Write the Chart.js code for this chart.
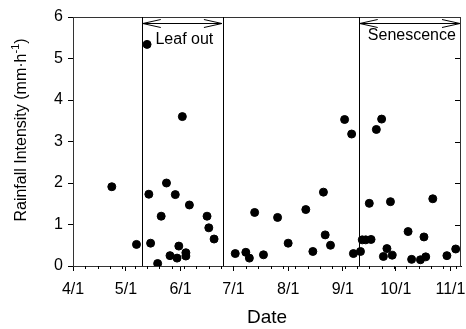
<!DOCTYPE html>
<html>
<head>
<meta charset="utf-8">
<script src="https://cdn.jsdelivr.net/npm/chart.js@4.4.1/dist/chart.umd.min.js"></script>
<style>
  html, body { margin: 0; padding: 0; background: #fff; }
</style>
</head>
<body>
<canvas id="chart" width="466" height="329"></canvas>
<script>
// rain events (date, mm/h)
const eventDates = [
  '4/23', '5/7', '5/13', '5/14', '5/15', '5/19', '5/21', '5/24', '5/26', '5/29',
  '5/30', '5/31', '6/2', '6/4', '6/4', '6/6', '6/16', '6/17', '6/20',
  '7/2', '7/8', '7/10', '7/13', '7/18', '7/26', '8/1', '8/11', '8/15', '8/21',
  '8/22', '8/25', '9/2', '9/6', '9/7', '9/11', '9/12', '9/14', '9/16', '9/17',
  '9/20', '9/23', '9/24', '9/26', '9/28', '9/29', '10/8', '10/10', '10/15',
  '10/17', '10/18', '10/22', '10/30', '11/4'
];
const intensity = [
  1.91, 0.52, 5.34, 1.73, 0.55, 0.06, 1.2, 2.0, 0.25, 1.72,
  0.19, 0.48, 3.6, 0.32, 0.24, 1.47, 1.2, 0.92, 0.65,
  0.3, 0.33, 0.19, 1.29, 0.27, 1.17, 0.55, 1.36, 0.35, 1.78,
  0.75, 0.5, 3.53, 3.18, 0.3, 0.35, 0.63, 0.63, 1.51, 0.64,
  3.29, 3.54, 0.23, 0.42, 1.55, 0.26, 0.83, 0.16, 0.15,
  0.7, 0.22, 1.62, 0.25, 0.41
];
const monthLabels = ['4/1', '5/1', '6/1', '7/1', '8/1', '9/1', '10/1', '11/1'];
const axisEnd = '11/7';
const phaseLines = ['5/10', '6/25', '9/10'];
const phaseNames = ['Leaf out', 'Senescence'];

const FONT = '"Liberation Sans", Arial, sans-serif';
const monthStart = {4: 0, 5: 30, 6: 61, 7: 91, 8: 122, 9: 153, 10: 183, 11: 214};
function dayOf(s) {
  const [m, d] = s.split('/').map(Number);
  return monthStart[m] + d - 1;
}

const extras = {
  id: 'extras',
  afterDraw(chart) {
    const ctx = chart.ctx;
    const a = chart.chartArea;
    const xs = chart.scales.x, ys = chart.scales.y;
    ctx.save();
    ctx.lineWidth = 1;

    // box round the plot
    ctx.strokeStyle = '#333';
    ctx.strokeRect(Math.round(a.left) + 0.5, Math.round(a.top) + 0.5,
      Math.round(a.right - a.left) - 1, Math.round(a.bottom - a.top));

    ctx.strokeStyle = '#000';
    ctx.beginPath();
    // inward ticks on the right side
    for (let v = 1; v < 6; v++) {
      const y = Math.round(ys.getPixelForValue(v)) + 0.5;
      ctx.moveTo(a.right - 1, y);
      ctx.lineTo(a.right - 6, y);
    }
    // weekly minor ticks
    for (let d = 7; d < dayOf(axisEnd); d += 7) {
      const x = Math.round(xs.getPixelForValue(d)) + 0.5;
      ctx.moveTo(x, a.bottom);
      ctx.lineTo(x, a.bottom + 3);
    }
    // phase lines
    phaseLines.forEach(p => {
      const x = Math.round(xs.getPixelForValue(dayOf(p))) + 0.5;
      ctx.moveTo(x, a.top);
      ctx.lineTo(x, a.bottom);
    });
    ctx.stroke();

    // double arrows with labels
    const spans = [
      [dayOf(phaseLines[0]), dayOf(phaseLines[1]), 44],
      [dayOf(phaseLines[2]), dayOf(axisEnd), 40]
    ];
    ctx.font = '16px ' + FONT;
    ctx.fillStyle = '#000';
    ctx.textAlign = 'center';
    ctx.textBaseline = 'alphabetic';
    spans.forEach((s, i) => {
      const x1 = xs.getPixelForValue(s[0]) + 1;
      const x2 = xs.getPixelForValue(s[1]) - 1;
      const y = a.top + 6.5;
      ctx.beginPath();
      ctx.moveTo(x1, y); ctx.lineTo(x2, y);
      ctx.moveTo(x1 + 18, y - 4); ctx.lineTo(x1, y); ctx.lineTo(x1 + 18, y + 4);
      ctx.moveTo(x2 - 18, y - 4); ctx.lineTo(x2, y); ctx.lineTo(x2 - 18, y + 4);
      ctx.stroke();
      ctx.fillText(phaseNames[i], (x1 + x2) / 2 + 2, s[2]);
    });

    // y title with superscript
    ctx.translate(22, 130);
    ctx.rotate(-Math.PI / 2);
    ctx.textAlign = 'left';
    ctx.textBaseline = 'middle';
    const main = 'Rainfall Intensity (mm\u00b7h';
    ctx.font = '16px ' + FONT;
    const w1 = ctx.measureText(main).width;
    ctx.font = '11px ' + FONT;
    const w2 = ctx.measureText('-1').width;
    ctx.font = '16px ' + FONT;
    const w3 = ctx.measureText(')').width;
    let x = -(w1 + w2 + w3) / 2;
    ctx.fillText(main, x, 0);
    x += w1;
    ctx.font = '11px ' + FONT;
    ctx.fillText('-1', x, -6);
    x += w2;
    ctx.font = '16px ' + FONT;
    ctx.fillText(')', x, 0);
    ctx.restore();
  }
};

new Chart(document.getElementById('chart'), {
  type: 'scatter',
  data: {
    datasets: [{
      data: eventDates.map((d, i) => ({x: dayOf(d), y: intensity[i]})),
      backgroundColor: '#000',
      borderColor: '#000',
      pointRadius: 4,
      pointHoverRadius: 4
    }]
  },
  options: {
    responsive: false,
    animation: false,
    devicePixelRatio: 1,
    layout: {padding: {top: 17, right: 1, left: 0, bottom: 0}},
    plugins: {legend: {display: false}, tooltip: {enabled: false}},
    scales: {
      x: {
        type: 'linear',
        min: 0,
        max: dayOf(axisEnd),
        afterBuildTicks: s => { s.ticks = monthLabels.map(l => ({value: dayOf(l)})); },
        afterFit: s => { s.height = 63; s.paddingLeft = 0; s.paddingRight = 0; },
        ticks: {
          callback: (v, i) => monthLabels[i],
          font: {family: FONT, size: 16},
          color: '#000',
          padding: 9,
          maxRotation: 0,
          autoSkip: false
        },
        grid: {drawOnChartArea: false, tickLength: 5, color: '#000'},
        border: {color: '#000'},
        title: {
          display: true,
          text: 'Date',
          font: {family: FONT, size: 19},
          color: '#000',
          padding: {top: 0, bottom: 0}
        }
      },
      y: {
        min: 0,
        max: 6,
        afterFit: s => { s.width = 73; s.paddingTop = 0; s.paddingBottom = 0; },
        ticks: {
          stepSize: 1,
          font: {family: FONT, size: 16},
          color: '#000',
          padding: 5
        },
        grid: {drawOnChartArea: false, tickLength: 5, color: '#000'},
        border: {color: '#000'}
      }
    }
  },
  plugins: [extras]
});
</script>
</body>
</html>
